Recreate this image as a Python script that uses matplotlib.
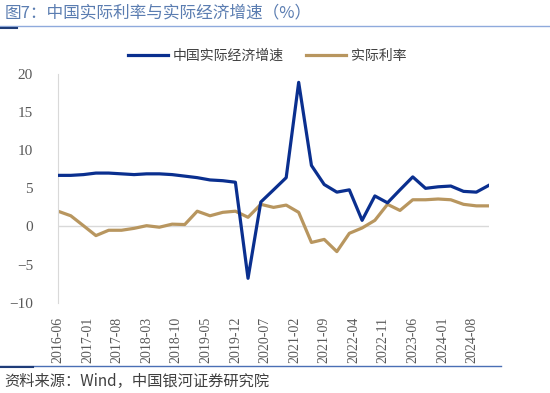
import matplotlib.pyplot as plt
import matplotlib.dates as mdates
from matplotlib.lines import Line2D
import pandas as pd

plt.rcParams['font.family'] = ['Noto Sans CJK SC', 'DejaVu Sans']

# quarterly data, 2016-06 .. 2024-12
dates = pd.date_range('2016-06-01', '2024-12-01', freq='3MS')
gdp_growth = [6.7, 6.7, 6.8, 7.0, 7.0, 6.9, 6.8, 6.9, 6.9, 6.8, 6.6, 6.4, 6.1, 6.0, 5.8,
              -6.8, 3.2, 4.8, 6.4, 18.9, 8.0, 5.5, 4.5, 4.8, 0.8, 4.0, 3.1, 4.8, 6.5,
              5.0, 5.2, 5.3, 4.6, 4.5, 5.4]
real_rate = [2.0, 1.4, 0.1, -1.2, -0.5, -0.5, -0.25, 0.1, -0.1, 0.3, 0.25, 2.0, 1.4, 1.85,
             2.0, 1.2, 2.9, 2.5, 2.8, 1.85, -2.1, -1.7, -3.3, -0.9, -0.2, 0.8, 2.9, 2.1,
             3.5, 3.5, 3.6, 3.5, 2.9, 2.7, 2.7]
tick_dates = pd.date_range('2016-06-01', '2024-08-01', freq='7MS')
labels = ['中国实际经济增速', '实际利率']

blue = '#0a2f8f'
gold = '#b8965f'

fig = plt.figure(figsize=(5.5, 3.93), dpi=100)
ax = fig.add_axes([0.1055, 0.2298, 0.7835, 0.582])

ax.axhline(0, color='#d9d9d9', lw=1, zorder=1)
ax.plot(dates, gdp_growth, color=blue, lw=2.3, label=labels[0], zorder=3)
ax.plot(dates, real_rate, color=gold, lw=2.3, label=labels[1], zorder=2)

ax.set_xlim(dates[0], dates[-1])
ax.set_ylim(-10, 20)
ax.set_yticks(range(-10, 21, 5))
ax.set_xticks(tick_dates)
ax.xaxis.set_major_formatter(mdates.DateFormatter('%Y-%m'))

for s in ['top', 'right', 'bottom']:
    ax.spines[s].set_visible(False)
ax.spines['left'].set_color('#d9d9d9')
ax.tick_params(length=0, colors='#595959')
ax.tick_params(axis='y', pad=18)
ax.tick_params(axis='x', pad=10)
for t in ax.get_yticklabels():
    t.set_fontfamily('Liberation Serif')
    t.set_fontsize(11)
for t in ax.get_xticklabels():
    t.set_fontfamily('Liberation Serif')
    t.set_fontsize(10)
    t.set_rotation(90)

leg = ax.legend(loc='upper center', bbox_to_anchor=(0.485, 1.165), ncol=2, frameon=False,
                fontsize=10, handlelength=2.9, columnspacing=1.6, handletextpad=0.35,
                labelcolor='#404040')

# title and decoration lines
fig.text(0.008, 0.967, '图7：中国实际利率与实际经济增速（%）', fontsize=12, color='#5b7db1',
         va='center', ha='left')
fig.add_artist(Line2D([0, 1], [0.935, 0.935], color='#8faadc', lw=1))
fig.add_artist(Line2D([0, 0.03], [0.928, 0.928], color='#1f3c78', lw=1.5))
fig.add_artist(Line2D([0, 0.91], [0.069, 0.069], color='#4a6fb5', lw=1))
fig.add_artist(Line2D([0, 0.06], [0.066, 0.066], color='#1f3c78', lw=1.5))
fig.text(0.008, 0.03, '资料来源：Wind，中国银河证券研究院', fontsize=11, color='#404040',
         va='center', ha='left', style='italic')

fig.savefig('out.png', dpi=100)
